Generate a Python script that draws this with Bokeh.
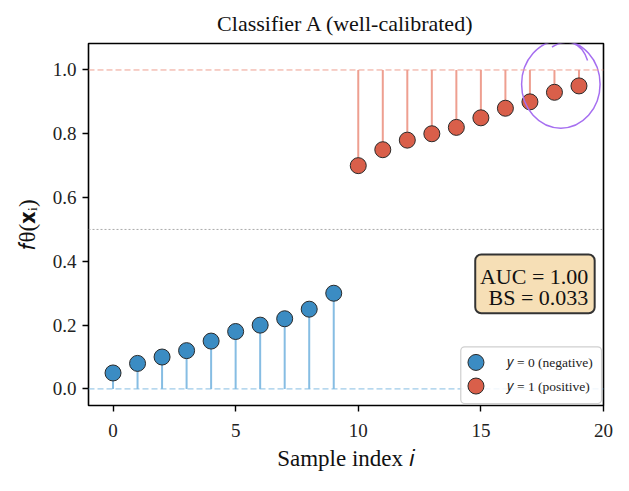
from bokeh.plotting import figure
from bokeh.models import (ColumnDataSource, Span, Label, BoxAnnotation,
                          FixedTicker, PrintfTickFormatter, Range1d)
from bokeh.embed import file_html
from bokeh.resources import INLINE

neg_idx = [0, 1, 2, 3, 4, 5, 6, 7, 8, 9]
neg_val = [0.05, 0.08, 0.10, 0.12, 0.15, 0.18, 0.20, 0.22, 0.25, 0.30]
pos_idx = [10, 11, 12, 13, 14, 15, 16, 17, 18, 19]
pos_val = [0.70, 0.75, 0.78, 0.80, 0.82, 0.85, 0.88, 0.90, 0.93, 0.95]
x_ticks = [0, 5, 10, 15, 20]
y_ticks = [0.0, 0.2, 0.4, 0.6, 0.8, 1.0]
legend_labels = ["𝑦 = 0 (negative)", "𝑦 = 1 (positive)"]
auc_text = "AUC = 1.00"
bs_text = "BS = 0.033"

SERIF = "Liberation Serif"
BLUE = "#3b8cc3"
RED = "#d95f4a"
BLUE_STEM = "#86bde3"
RED_STEM = "#ee9f90"
EDGE = "#2a2a2a"

p = figure(width=613, height=475, output_backend="svg", toolbar_location=None,
           x_range=Range1d(-1.0, 20.0), y_range=Range1d(-0.052, 1.083),
           min_border_left=88, min_border_right=10, min_border_top=43, min_border_bottom=70,
           title="Classifier A (well-calibrated)")
p.title.align = "center"
p.title.text_font = SERIF
p.title.text_font_style = "normal"
p.title.text_font_size = "22px"
p.title.text_color = "#111111"
p.title.offset = 8
p.title.standoff = 16

p.xgrid.visible = False
p.ygrid.visible = False
p.outline_line_color = "black"
p.outline_line_width = 1.6

for ax in (p.xaxis, p.yaxis):
    ax.axis_line_color = None
    ax.major_tick_line_color = "black"
    ax.major_tick_line_width = 1.4
    ax.major_tick_out = 6
    ax.major_tick_in = 0
    ax.minor_tick_line_color = None
    ax.major_label_text_font = SERIF
    ax.major_label_text_font_size = "19px"
    ax.major_label_text_color = "#222222"
    ax.axis_label_text_font = SERIF
    ax.axis_label_text_font_size = "23px"
    ax.axis_label_text_font_style = "normal"
    ax.axis_label_text_color = "#111111"
p.xaxis.major_label_standoff = 12
p.yaxis.major_label_standoff = 6
p.xaxis.axis_label_standoff = 6
p.yaxis.axis_label_standoff = 10

p.xaxis.ticker = FixedTicker(ticks=x_ticks)
p.yaxis.ticker = FixedTicker(ticks=y_ticks)
p.yaxis.formatter = PrintfTickFormatter(format="%.1f")
p.xaxis.axis_label = "Sample index 𝑖"
p.yaxis.axis_label = "𝑓θ(𝐱ᵢ)"

# reference lines
p.add_layout(Span(location=0.0, dimension="width", line_color=BLUE_STEM, line_dash="6 3", line_width=1))
p.add_layout(Span(location=1.0, dimension="width", line_color=RED_STEM, line_dash="6 3", line_width=1))
p.add_layout(Span(location=0.5, dimension="width", line_color="#aaaaaa", line_dash="2 2", line_width=1))

neg = ColumnDataSource(dict(x=neg_idx, y=neg_val, base=[0.0] * len(neg_idx)))
pos = ColumnDataSource(dict(x=pos_idx, y=pos_val, top=[1.0] * len(pos_idx)))

p.segment(x0="x", y0="base", x1="x", y1="y", source=neg, line_color=BLUE_STEM, line_width=2)
p.segment(x0="x", y0="y", x1="x", y1="top", source=pos, line_color=RED_STEM, line_width=2)

p.scatter("x", "y", source=neg, size=16, fill_color=BLUE, line_color=EDGE, line_width=1)
p.scatter("x", "y", source=pos, size=16, fill_color=RED, line_color=EDGE, line_width=1)

# AUC / BS box
p.add_layout(BoxAnnotation(left=14.77, right=19.64, bottom=0.237, top=0.4215,
                           fill_color="#f6dfb6", fill_alpha=1.0, line_color="#333333",
                           line_alpha=1.0, line_width=2, border_radius=6))
p.add_layout(Label(x=19.38, y=0.352, text=auc_text, text_align="right", text_baseline="middle",
                   text_font=SERIF, text_font_size="22px", text_color="#111111"))
p.add_layout(Label(x=19.38, y=0.287, text=bs_text, text_align="right", text_baseline="middle",
                   text_font=SERIF, text_font_size="22px", text_color="#111111"))

# legend (drawn as annotations for matplotlib-like large markers)
LEG_BOX = dict(left=14.18, right=19.92, bottom=-0.046, top=0.132)
LEG_MARK_X = 14.8
LEG_ROWS_Y = [0.083, 0.009]
LEG_TEXT_X = 16.05
p.add_layout(BoxAnnotation(**LEG_BOX, fill_color="white", fill_alpha=0.85,
                           line_color="#cfcfcf", line_alpha=1.0, line_width=1.2,
                           border_radius=4, level="annotation"))
p.scatter(x=[LEG_MARK_X] * 2, y=LEG_ROWS_Y, size=16, fill_color=[BLUE, RED],
          line_color=EDGE, line_width=1, level="overlay")
for lab, yy in zip(legend_labels, LEG_ROWS_Y):
    p.add_layout(Label(x=LEG_TEXT_X, y=yy, text=lab, text_align="left", text_baseline="middle",
                       text_font=SERIF, text_font_size="13.5px", text_color="#222222",
                       level="overlay"))

# hand-drawn highlight
p.ellipse(x=[18.26], y=[0.955], width=[3.2], height=[0.275], fill_color=None,
          line_color="#a66ff0", line_width=1.5)
p.bezier(x0=[17.9], y0=[1.072], x1=[19.35], y1=[1.03], cx0=[18.5], cy0=[1.1], cx1=[19.1], cy1=[1.09],
         line_color="#a66ff0", line_width=1.5)

open("out.html", "w").write(file_html(p, INLINE))
